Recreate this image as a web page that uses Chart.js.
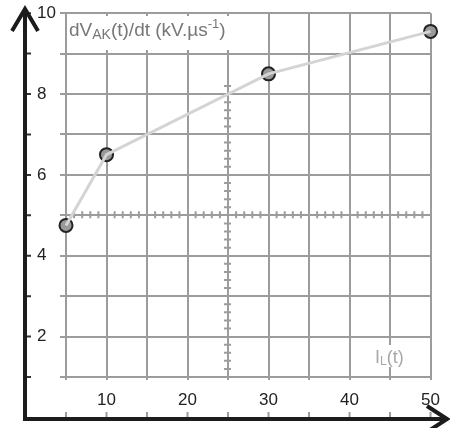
<!DOCTYPE html>
<html lang="en">
<head>
<meta charset="UTF-8">
<title>dV/dt versus load current</title>
<style>
  html, body { margin: 0; padding: 0; background: #fff; }
  canvas { display: block; }
</style>
</head>
<body>
<canvas id="slewChart" width="450" height="428"></canvas>
<script src="https://cdn.jsdelivr.net/npm/chart.js"></script>
<script>
// load current I_L and measured dV_AK/dt (kV/us)
const currentIL = [5, 10, 30, 50];
const slewRate = [4.75, 6.5, 8.5, 9.55];
const xTickLabels = [10, 20, 30, 40, 50];
const yTickLabels = [2, 4, 6, 8, 10];

const GRID = '#9c9c9c';
const AXIS = '#1c1c1c';
const FONT = '"Liberation Sans", Arial, Helvetica, sans-serif';

const points = currentIL.map((x, i) => ({ x: x, y: slewRate[i] }));

// text made of pieces, some shifted as sub/superscript
function drawRich(ctx, x, y, parts, color) {
    ctx.fillStyle = color;
    ctx.textBaseline = 'alphabetic';
    ctx.textAlign = 'left';
    parts.forEach(p => {
        ctx.font = p.size + 'px ' + FONT;
        ctx.fillText(p.text, x, y + (p.dy || 0));
        x += ctx.measureText(p.text).width;
    });
}

const decorations = {
    id: 'decorations',
    beforeDatasetsDraw(chart) {
        const ctx = chart.ctx;
        const xs = chart.scales.x, ys = chart.scales.y;
        ctx.save();

        // minor ticks on the two centre lines
        ctx.strokeStyle = GRID;
        ctx.lineWidth = 2;
        const cx = xs.getPixelForValue(25);
        const cy = ys.getPixelForValue(5);
        ctx.beginPath();
        for (let v = 6; v < 50; v++) {
            if (v % 5 === 0) continue;
            const px = xs.getPixelForValue(v);
            ctx.moveTo(px, cy - 4);
            ctx.lineTo(px, cy + 3);
        }
        for (let i = 6; i <= 41; i++) {   // 1.2 .. 8.2 every 0.2
            if (i % 5 === 0) continue;
            const py = ys.getPixelForValue(i / 5);
            ctx.moveTo(cx - 4, py);
            ctx.lineTo(cx + 3, py);
        }
        ctx.stroke();

        // axis titles on white boxes
        ctx.fillStyle = '#fff';
        ctx.fillRect(67, 16, 163, 34);
        ctx.fillRect(230, 16, 4, 16);
        drawRich(ctx, 69, 36, [
            { text: 'dV', size: 19 },
            { text: 'AK', size: 14, dy: 3 },
            { text: '(t)/dt (kV.µs', size: 19 },
            { text: '-1', size: 13, dy: -8 },
            { text: ')', size: 19 }
        ], '#777');

        ctx.fillStyle = '#fff';
        ctx.fillRect(371, 345, 35, 22);
        drawRich(ctx, 375, 363, [
            { text: 'I', size: 18 },
            { text: 'L', size: 12, dy: 2 },
            { text: '(t)', size: 18 }
        ], '#a8a8a8');
        ctx.restore();
    },
    afterDraw(chart) {
        const ctx = chart.ctx;
        const xs = chart.scales.x, ys = chart.scales.y;
        ctx.save();

        // small ticks along the black axes
        ctx.lineWidth = 2;
        ctx.strokeStyle = '#333';
        ctx.beginPath();
        for (let v = 1; v <= 10; v++) {
            const py = ys.getPixelForValue(v);
            ctx.moveTo(27, py);
            ctx.lineTo(31, py);
        }
        ctx.stroke();
        ctx.strokeStyle = GRID;
        ctx.beginPath();
        for (let v = 5; v <= 50; v += 5) {
            const px = xs.getPixelForValue(v);
            ctx.moveTo(px, 412);
            ctx.lineTo(px, 417);
        }
        ctx.stroke();

        // black axes with arrow heads
        ctx.strokeStyle = AXIS;
        ctx.lineWidth = 4;
        ctx.lineJoin = 'miter';
        ctx.beginPath();
        ctx.moveTo(25, 11);
        ctx.lineTo(25, 419);
        ctx.lineTo(446, 419);
        ctx.stroke();
        ctx.beginPath();
        ctx.moveTo(12, 31);
        ctx.lineTo(25, 9);
        ctx.lineTo(38, 31);
        ctx.stroke();
        ctx.beginPath();
        ctx.moveTo(427, 406);
        ctx.lineTo(447, 419);
        ctx.lineTo(427, 432);
        ctx.stroke();
        ctx.restore();
    }
};

const ctx = document.getElementById('slewChart').getContext('2d');
new Chart(ctx, {
    type: 'scatter',
    data: {
        datasets: [
            {
                data: points,
                showLine: true,
                borderColor: '#d4d4d4',
                borderWidth: 3,
                pointRadius: 0,
                tension: 0,
                order: 0,
                clip: false
            },
            {
                data: points,
                showLine: false,
                pointRadius: 6.5,
                pointBackgroundColor: '#9a9a9a',
                pointBorderColor: '#222',
                pointBorderWidth: 2,
                order: 1,
                clip: false
            }
        ]
    },
    options: {
        responsive: false,
        animation: false,
        layout: { padding: { left: 37, top: 13, right: 15, bottom: 0 } },
        plugins: {
            legend: { display: false },
            tooltip: { enabled: false }
        },
        scales: {
            x: {
                type: 'linear',
                min: 5,
                max: 50,
                ticks: {
                    stepSize: 5,
                    autoSkip: false,
                    maxRotation: 0,
                    padding: 10,
                    color: '#222',
                    font: { family: FONT, size: 17 },
                    callback: v => xTickLabels.includes(v) ? String(v) : ''
                },
                grid: { color: GRID, lineWidth: 2, tickLength: 3 },
                border: { display: false },
                afterFit: s => { s.height = 51; }
            },
            y: {
                type: 'linear',
                min: 1,
                max: 10,
                ticks: {
                    stepSize: 1,
                    autoSkip: false,
                    crossAlign: 'far',
                    color: '#222',
                    font: { family: FONT, size: 17 },
                    callback: v => yTickLabels.includes(v) ? String(v) : ''
                },
                grid: { color: GRID, lineWidth: 2, tickLength: 6 },
                border: { display: false },
                afterFit: s => { s.width = 29; }
            }
        }
    },
    plugins: [decorations]
});
</script>
</body>
</html>
